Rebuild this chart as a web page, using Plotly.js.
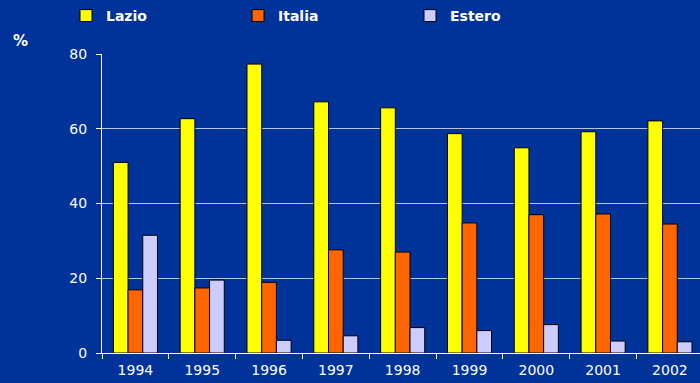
<!DOCTYPE html>
<html>
<head>
<meta charset="utf-8">
<script src="https://cdn.plot.ly/plotly-3.0.1.min.js"></script>
<style>html,body{margin:0;padding:0;background:#003399;}#chart{width:700px;height:383px;}</style>
</head>
<body>
<div id="chart"></div>
<script>
const years = ['1994','1995','1996','1997','1998','1999','2000','2001','2002'];
const lazio  = [51.0, 62.7, 77.3, 67.2, 65.6, 58.7, 54.9, 59.2, 62.1];
const italia = [16.9, 17.4, 18.9, 27.6, 27.0, 34.8, 37.0, 37.2, 34.5];
const estero = [31.5, 19.5, 3.4, 4.6, 6.8, 6.0, 7.6, 3.2, 3.0];
const yTicks = [0, 20, 40, 60, 80];

const mk = (name, y, color) => ({
  type: 'bar', name: name, x: years, y: y,
  marker: {color: color, line: {color: '#000000', width: 1}},
  hoverinfo: 'x+y+name'
});

const data = [
  mk('Lazio', lazio, '#ffff00'),
  mk('Italia', italia, '#ff6600'),
  mk('Estero', estero, '#ccccff')
];

const layout = {
  width: 700, height: 383,
  paper_bgcolor: '#003399', plot_bgcolor: '#003399',
  margin: {l: 102, r: 0, t: 53.5, b: 30, pad: 0},
  barmode: 'group', bargap: 0.34, bargroupgap: 0,
  font: {family: 'DejaVu Sans, Verdana, sans-serif', color: '#ffffff', size: 14},
  showlegend: true,
  legend: {
    orientation: 'h', x: 66 / 700, xref: 'container', xanchor: 'left',
    y: 1, yref: 'container', yanchor: 'top',
    font: {family: 'DejaVu Sans, Verdana, sans-serif', color: '#ffffff', size: 14, weight: 'bold'},
    entrywidth: 127, entrywidthmode: 'pixels',
    bgcolor: 'rgba(0,0,0,0)', traceorder: 'normal', itemclick: false
  },
  xaxis: {
    type: 'category', range: [-0.5, 8.45],
    showline: true, linecolor: '#ffffff', linewidth: 1,
    ticks: 'outside', tickson: 'boundaries', ticklen: 5, tickcolor: '#ffffff',
    showgrid: false, zeroline: false,
    tickfont: {family: 'DejaVu Sans, Verdana, sans-serif', color: '#ffffff', size: 14},
    ticklabelstandoff: 4, fixedrange: true
  },
  yaxis: {
    range: [0, 80], tickvals: yTicks,
    showline: true, linecolor: '#ffffff', linewidth: 1,
    ticks: 'outside', ticklen: 5, tickcolor: '#ffffff',
    showgrid: true, gridcolor: '#b8c4e4', gridwidth: 1, zeroline: false,
    tickfont: {family: 'DejaVu Sans, Verdana, sans-serif', color: '#ffffff', size: 14},
    ticklabelstandoff: 6, fixedrange: true
  },
  annotations: [{
    text: '%', xref: 'paper', yref: 'paper', x: -0.136, y: 1.045,
    xanchor: 'center', yanchor: 'middle', showarrow: false,
    font: {family: 'DejaVu Sans, Verdana, sans-serif', color: '#ffffff', size: 15, weight: 'bold'}
  }]
};

Plotly.newPlot('chart', data, layout, {displayModeBar: false, staticPlot: true});
</script>
</body>
</html>
